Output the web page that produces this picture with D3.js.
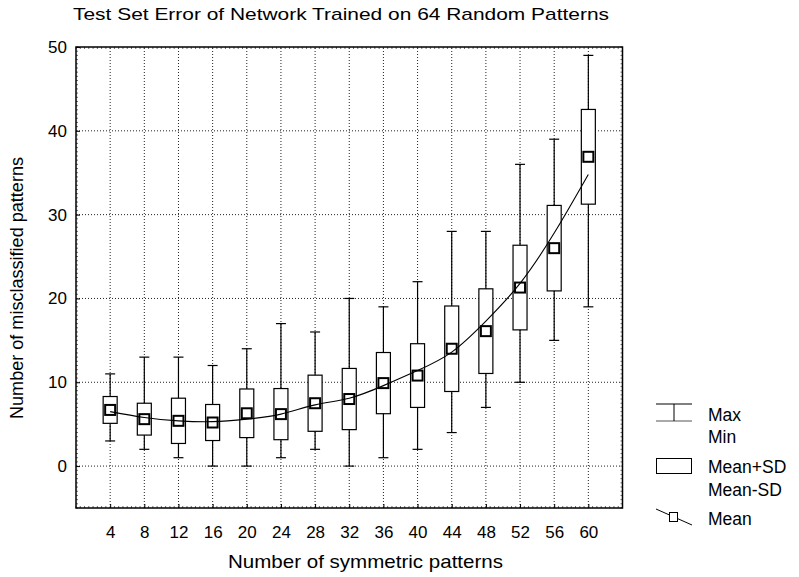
<!DOCTYPE html>
<html>
<head>
<meta charset="utf-8">
<script src="https://cdn.jsdelivr.net/npm/d3@7"></script>
<style>
	body { margin: 0; background: white; }
	svg text { font-family: "Liberation Sans", Arial, sans-serif; fill: #000; }
</style>
</head>
<body>
<div id="chart"></div>
<script>
// Number of symmetric patterns (x categories)
const patterns = [4, 8, 12, 16, 20, 24, 28, 32, 36, 40, 44, 48, 52, 56, 60];
// Misclassified patterns per category
const maxVals = [11, 13, 13, 12, 14, 17, 16, 20, 19, 22, 28, 28, 36, 39, 49];
const minVals = [3, 2, 1, 0, 0, 1, 2, 0, 1, 2, 4, 7, 10, 15, 19];
const meanVals = [6.7, 5.6, 5.4, 5.2, 6.3, 6.2, 7.5, 8.0, 9.9, 10.8, 14.0, 16.1, 21.3, 26.0, 36.9];
const sdVals = [1.6, 1.9, 2.7, 2.15, 2.9, 3.05, 3.35, 3.65, 3.65, 3.8, 5.1, 5.05, 5.05, 5.1, 5.65];
// fitted trend line read at each category
const fitVals = [6.5, 5.8, 5.4, 5.3, 5.6, 6.2, 7.3, 8.1, 9.6, 11.4, 13.6, 17.3, 21.8, 27.8, 34.8];

const yTicks = [0, 10, 20, 30, 40, 50];

const W = 799, H = 577;
const margin = { left: 76, right: 176.5, top: 47, bottom: 69 };

const svg = d3.select("#chart").append("svg")
	.attr("width", W)
	.attr("height", H);

const x = d3.scaleLinear().domain([0, 64]).range([margin.left, W - margin.right]);
const y = d3.scaleLinear().domain([-5, 50]).range([H - margin.bottom, margin.top]);

const data = patterns.map((p, i) => ({
	p: p, max: maxVals[i], min: minVals[i], mean: meanVals[i], sd: sdVals[i], fit: fitVals[i]
}));

// dotted grid
const grid = svg.append("g").attr("stroke", "#222").attr("stroke-width", 1).attr("stroke-dasharray", "1,2");
grid.selectAll("line.v").data(patterns).enter().append("line")
	.attr("x1", d => x(d)).attr("x2", d => x(d))
	.attr("y1", y(-5)).attr("y2", y(50));
grid.selectAll("line.h").data(yTicks.slice(0, -1)).enter().append("line")
	.attr("x1", x(0)).attr("x2", x(64))
	.attr("y1", d => y(d)).attr("y2", d => y(d));

// minor ticks along the frame
const minor = svg.append("g").attr("stroke", "#444").attr("stroke-width", 0.8);
const yMinor = d3.range(-5, 50.01, 0.5);
const xMinor = d3.range(0, 64.01, 0.5);
minor.selectAll("line.yl").data(yMinor).enter().append("line")
	.attr("x1", x(0)).attr("x2", x(0) + 2).attr("y1", d => y(d)).attr("y2", d => y(d));
minor.selectAll("line.yr").data(yMinor).enter().append("line")
	.attr("x1", x(64)).attr("x2", x(64) - 2).attr("y1", d => y(d)).attr("y2", d => y(d));
minor.selectAll("line.xt").data(xMinor).enter().append("line")
	.attr("x1", d => x(d)).attr("x2", d => x(d)).attr("y1", y(50)).attr("y2", y(50) + 2);
minor.selectAll("line.xb").data(xMinor).enter().append("line")
	.attr("x1", d => x(d)).attr("x2", d => x(d)).attr("y1", y(-5)).attr("y2", y(-5) - 2);

// axes (ticks only, labels)
const xAxis = d3.axisBottom(x).tickValues(patterns).tickSize(4).tickPadding(10);
svg.append("g").attr("transform", `translate(0,${y(-5)})`).call(xAxis)
	.call(g => g.select(".domain").remove())
	.call(g => g.selectAll(".tick line").attr("y2", -4).attr("stroke", "#000"))
	.call(g => g.selectAll(".tick text").attr("font-size", 17).attr("font-family", "Liberation Sans, Arial").attr("dy", "0.95em"));

const yAxis = d3.axisLeft(y).tickValues(yTicks).tickSize(4).tickPadding(9);
svg.append("g").attr("transform", `translate(${x(0)},0)`).call(yAxis)
	.call(g => g.select(".domain").remove())
	.call(g => g.selectAll(".tick line").attr("x2", 4).attr("stroke", "#000"))
	.call(g => g.selectAll(".tick text").attr("font-size", 17).attr("font-family", "Liberation Sans, Arial").attr("x", -9));

// whiskers
const boxes = svg.append("g");
boxes.selectAll("line.whisker").data(data).enter().append("line")
	.attr("x1", d => x(d.p)).attr("x2", d => x(d.p))
	.attr("y1", d => y(d.min)).attr("y2", d => y(d.max))
	.attr("stroke", "#000").attr("stroke-width", 1.2);
boxes.selectAll("line.cap-max").data(data).enter().append("line")
	.attr("x1", d => x(d.p) - 5).attr("x2", d => x(d.p) + 5)
	.attr("y1", d => y(d.max)).attr("y2", d => y(d.max))
	.attr("stroke", "#000").attr("stroke-width", 1.2);
boxes.selectAll("line.cap-min").data(data).enter().append("line")
	.attr("x1", d => x(d.p) - 5).attr("x2", d => x(d.p) + 5)
	.attr("y1", d => y(d.min)).attr("y2", d => y(d.min))
	.attr("stroke", "#000").attr("stroke-width", 1.2);

// mean +/- SD boxes
boxes.selectAll("rect.sd").data(data).enter().append("rect")
	.attr("x", d => x(d.p) - 7)
	.attr("y", d => y(d.mean + d.sd))
	.attr("width", 14)
	.attr("height", d => y(d.mean - d.sd) - y(d.mean + d.sd))
	.attr("fill", "white").attr("stroke", "#000").attr("stroke-width", 1.2);

// fitted curve
const line = d3.line().x(d => x(d.p)).y(d => y(d.fit)).curve(d3.curveNatural);
svg.append("path").datum(data)
	.attr("d", line)
	.attr("fill", "none").attr("stroke", "#000").attr("stroke-width", 1.1);

// mean markers
boxes.selectAll("rect.mean").data(data).enter().append("rect")
	.attr("x", d => x(d.p) - 5)
	.attr("y", d => y(d.mean) - 5)
	.attr("width", 10).attr("height", 10)
	.attr("fill", "white").attr("stroke", "#000").attr("stroke-width", 2);

// frame
svg.append("rect")
	.attr("x", x(0)).attr("y", y(50))
	.attr("width", x(64) - x(0)).attr("height", y(-5) - y(50))
	.attr("fill", "none").attr("stroke", "#000").attr("stroke-width", 1.5);

// title and axis labels
svg.append("text").attr("x", 73).attr("y", 20)
	.attr("font-size", 17).attr("textLength", 536).attr("lengthAdjust", "spacingAndGlyphs")
	.text("Test Set Error of Network Trained on 64 Random Patterns");

svg.append("text").attr("x", 365.5).attr("y", 568).attr("text-anchor", "middle")
	.attr("font-size", 18.5).attr("textLength", 275).attr("lengthAdjust", "spacingAndGlyphs")
	.text("Number of symmetric patterns");

svg.append("text")
	.attr("transform", "translate(23,288) rotate(-90)")
	.attr("text-anchor", "middle")
	.attr("font-size", 18.5).attr("textLength", 262).attr("lengthAdjust", "spacingAndGlyphs")
	.text("Number of misclassified patterns");

// legend
const lg = svg.append("g");
lg.append("line").attr("x1", 656).attr("x2", 692).attr("y1", 404).attr("y2", 404).attr("stroke", "#000");
lg.append("line").attr("x1", 656).attr("x2", 692).attr("y1", 421).attr("y2", 421).attr("stroke", "#555");
lg.append("line").attr("x1", 674).attr("x2", 674).attr("y1", 404).attr("y2", 421).attr("stroke", "#000");
lg.append("rect").attr("x", 656.5).attr("y", 458.5).attr("width", 35).attr("height", 15)
	.attr("fill", "white").attr("stroke", "#000");
lg.append("line").attr("x1", 656).attr("x2", 692).attr("y1", 509).attr("y2", 525).attr("stroke", "#000");
lg.append("rect").attr("x", 669.5).attr("y", 512.5).attr("width", 8).attr("height", 9)
	.attr("fill", "white").attr("stroke", "#000");

const legendLabels = [["Max", 421], ["Min", 443], ["Mean+SD", 473], ["Mean-SD", 496], ["Mean", 525]];
lg.selectAll("text").data(legendLabels).enter().append("text")
	.attr("x", 708).attr("y", d => d[1])
	.attr("font-size", 17.5)
	.text(d => d[0]);
</script>
</body>
</html>
